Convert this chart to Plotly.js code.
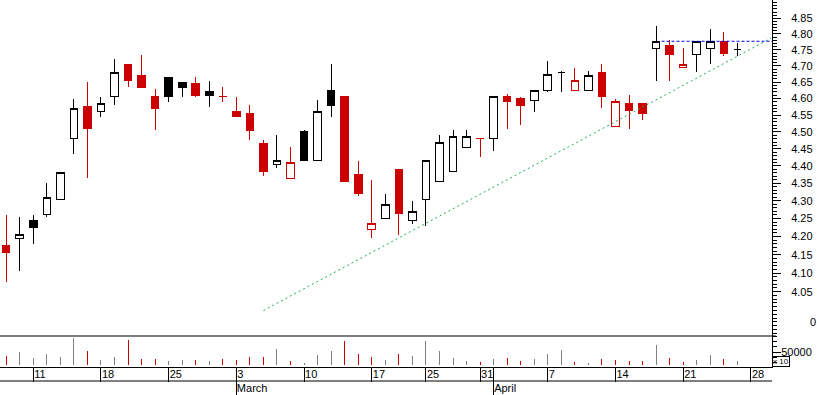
<!DOCTYPE html>
<html><head><meta charset="utf-8">
<script src="https://cdn.plot.ly/plotly-3.0.1.min.js"></script>
<style>html,body{margin:0;padding:0;background:#fff}#chart{width:817px;height:395px}
#chart path.box{shape-rendering:crispEdges}
#chart .bars path{shape-rendering:crispEdges}</style>
</head><body><div id="chart"></div>
<script>
// Trading days shown (2008)
const dates = ['2008-02-07','2008-02-08',
 '2008-02-11','2008-02-12','2008-02-13','2008-02-14','2008-02-15',
 '2008-02-18','2008-02-19','2008-02-20','2008-02-21','2008-02-22',
 '2008-02-25','2008-02-26','2008-02-27','2008-02-28','2008-02-29',
 '2008-03-03','2008-03-04','2008-03-05','2008-03-06','2008-03-07',
 '2008-03-10','2008-03-11','2008-03-12','2008-03-13','2008-03-14',
 '2008-03-17','2008-03-18','2008-03-19','2008-03-20',
 '2008-03-25','2008-03-26','2008-03-27','2008-03-28',
 '2008-03-31','2008-04-01','2008-04-02','2008-04-03','2008-04-04',
 '2008-04-07','2008-04-08','2008-04-09','2008-04-10','2008-04-11',
 '2008-04-14','2008-04-15','2008-04-16','2008-04-17','2008-04-18',
 '2008-04-21','2008-04-22','2008-04-23','2008-04-24','2008-04-25'];
const open = [4.175,4.195,4.245,4.26,4.305,4.48,4.575,4.56,4.605,4.705,
 4.67,4.605,4.665,4.65,4.645,4.62,4.605,4.56,4.555,4.465,
 4.405,4.365,4.50,4.415,4.625,4.605,4.375,4.22,4.25,4.39,
 4.245,4.305,4.355,4.385,4.455,4.48,4.48,4.605,4.60,4.595,
 4.625,4.68,4.625,4.625,4.68,4.515,4.585,4.585,4.755,4.765,
 4.695,4.735,4.755,4.775,4.75];
const high = [4.26,4.255,4.26,4.35,4.38,4.60,4.65,4.605,4.72,4.705,
 4.735,4.63,4.665,4.65,4.665,4.655,4.635,4.605,4.58,4.475,
 4.49,4.455,4.505,4.595,4.705,4.605,4.415,4.36,4.32,4.39,
 4.30,4.415,4.49,4.505,4.505,4.48,4.605,4.615,4.605,4.625,
 4.715,4.685,4.695,4.685,4.705,4.60,4.61,4.585,4.825,4.78,
 4.755,4.775,4.815,4.805,4.77];
const low = [4.075,4.105,4.18,4.255,4.305,4.435,4.365,4.545,4.58,4.635,
 4.635,4.505,4.59,4.605,4.605,4.575,4.59,4.545,4.475,4.37,
 4.395,4.365,4.415,4.415,4.545,4.355,4.315,4.195,4.25,4.205,
 4.235,4.23,4.355,4.385,4.455,4.425,4.445,4.51,4.52,4.56,
 4.62,4.62,4.625,4.625,4.57,4.515,4.51,4.535,4.655,4.655,
 4.695,4.68,4.705,4.73,4.73];
const close = [4.155,4.205,4.225,4.31,4.38,4.57,4.51,4.585,4.68,4.655,
 4.635,4.57,4.605,4.635,4.61,4.61,4.605,4.545,4.505,4.385,
 4.415,4.41,4.415,4.56,4.58,4.355,4.32,4.235,4.29,4.265,
 4.27,4.415,4.47,4.485,4.485,4.48,4.605,4.59,4.58,4.625,
 4.675,4.68,4.655,4.67,4.605,4.59,4.565,4.555,4.775,4.735,
 4.705,4.775,4.775,4.74,4.75];
// volume in thousands of shares
const volume = [355,500,264,421,315,1052,540,185,303,973,
 225,225,146,185,185,146,225,185,303,303,
 619,146,67,382,540,934,421,303,185,421,
 343,934,540,264,146,106,225,264,146,225,
 421,579,106,67,225,185,146,146,776,264,
 106,185,382,225,146];
const priorClose = 4.20;
const weekTickDates = ['2008-02-11','2008-02-18','2008-02-25','2008-03-03','2008-03-10','2008-03-17',
 '2008-03-25','2008-03-31','2008-04-07','2008-04-14','2008-04-21','2008-04-28'];
const monthTickDates = ['2008-03-03','2008-04-01'];
const monthTickText = ['March','April'];
const priceTicks = [4.05,4.10,4.15,4.20,4.25,4.30,4.35,4.40,4.45,4.50,4.55,4.60,4.65,4.70,4.75,4.80,4.85];
const volumeTicks = [500];
const volumeTickText = ['50000'];
// trend line (support) and resistance line: [bar index, price]
const trendIdx = [19, 56.5];
const trendPrice = [4.00, 4.787];
const resistIdx = [48.4, 56.6];
const resistPrice = [4.777, 4.777];

const RED = '#cc0000', BLACK = '#000000', GRAY = '#808080';
const idxOf = d => { const k = dates.indexOf(d); return k >= 0 ? k : dates.length; };

const groups = {rf:[], rh:[], bf:[], bh:[]};
const volColors = [];
dates.forEach((d, i) => {
  const prev = i ? close[i-1] : priorClose;
  const red = close[i] < prev;
  const filled = close[i] < open[i];
  groups[(red ? 'r' : 'b') + (filled ? 'f' : 'h')].push(i);
  volColors.push(red ? RED : GRAY);
});

function candle(list, color, fill) {
  const side = {line:{color:color, width:1}, fillcolor:fill};
  return {type:'candlestick', xaxis:'x', yaxis:'y',
    x:list, open:list.map(i=>open[i]), high:list.map(i=>high[i]),
    low:list.map(i=>low[i]), close:list.map(i=>close[i]),
    increasing:side, decreasing:side, whiskerwidth:0, hoverinfo:'skip'};
}

const traces = [
  candle(groups.bh, BLACK, '#ffffff'),
  candle(groups.rh, RED, '#ffffff'),
  candle(groups.bf, BLACK, BLACK),
  candle(groups.rf, RED, RED),
  {type:'bar', xaxis:'x', yaxis:'y2', x:dates.map((d,i)=>i), y:volume,
   width:0.074, marker:{color:volColors, line:{width:0}}, hoverinfo:'skip'},
  {type:'scatter', mode:'lines', xaxis:'x', yaxis:'y', x:trendIdx, y:trendPrice,
   line:{color:'#22aa55', width:1, dash:'2px,3px'}, hoverinfo:'skip'},
  {type:'scatter', mode:'lines', xaxis:'x', yaxis:'y', x:resistIdx, y:resistPrice,
   line:{color:'#0000ee', width:1, dash:'3px,2px'}, hoverinfo:'skip'},
  {type:'scatter', mode:'lines', xaxis:'x2', yaxis:'y2', x:[], y:[], hoverinfo:'skip'}
];

const H = 367; // plot area height (px)
const volPx = 31;
const xr = [-0.458, 56.56];
const tickFont = {family:'Arial, "Liberation Sans", sans-serif', size:11, color:'#000'};
const layout = {
  width:817, height:395, margin:{l:0, r:45, t:0, b:28},
  paper_bgcolor:'#fff', plot_bgcolor:'#fff', showlegend:false, hovermode:false,
  boxgap:0.2,
  xaxis:{range:xr, anchor:'y2', showgrid:false, zeroline:false,
    showline:true, linecolor:'#000', linewidth:1,
    tickmode:'array', tickvals:weekTickDates.map(idxOf),
    ticktext:weekTickDates.map(d=>String(+d.slice(8))),
    ticks:'outside', ticklen:14, tickwidth:1, tickcolor:'#000',
    ticklabelposition:'outside right', ticklabelstandoff:-3, ticklabelshift:0,
    tickfont:tickFont, rangeslider:{visible:false}, fixedrange:true},
  xaxis2:{range:xr, overlaying:'x', anchor:'y2', side:'bottom', showgrid:false, zeroline:false,
    showline:false, tickmode:'array', tickvals:monthTickDates.map(idxOf), ticktext:monthTickText,
    ticks:'outside', ticklen:28, tickwidth:1, tickcolor:'#000',
    ticklabelposition:'outside right', ticklabelstandoff:11, ticklabelshift:0,
    tickfont:tickFont, fixedrange:true},
  yaxis:{type:'log', domain:[volPx/H, 1], range:[0.594760, 0.690970], side:'right', anchor:'x',
    showgrid:false, zeroline:false, showline:true, linecolor:'#000', linewidth:1,
    tickmode:'array', tickvals:priceTicks, ticktext:priceTicks.map(v=>v.toFixed(2)),
    ticks:'outside', ticklen:8, tickwidth:1, tickcolor:'#000', tickfont:tickFont,
    ticklabelstandoff:8,
    minor:{dtick:'L0.01', tick0:4, ticks:'outside', ticklen:4, tickwidth:1, tickcolor:'#000'},
    fixedrange:true},
  yaxis2:{domain:[0, volPx/H], range:[-90, 1130], side:'right', anchor:'x',
    showgrid:false, zeroline:false, showline:true, linecolor:'#000', linewidth:1,
    tickmode:'array', tickvals:volumeTicks, ticktext:volumeTickText,
    ticks:'outside', ticklen:8, tickwidth:1, tickcolor:'#000', tickfont:tickFont,
    ticklabelstandoff:-2,
    minor:{tickmode:'array', tickvals:[100,300,700,900,1100], ticks:'outside', ticklen:4, tickwidth:1, tickcolor:'#000'},
    fixedrange:true},
  shapes:[
    {type:'line', xref:'paper', yref:'paper', x0:0, x1:1.005, y0:volPx/H, y1:volPx/H, line:{color:'#000', width:1}},
    {type:'line', xref:'paper', yref:'paper', x0:0, x1:1, y0:-14/H, y1:-14/H, line:{color:'#000', width:1}}
  ],
  annotations:[
    {xref:'paper', yref:'paper', x:808/772, y:(H-322)/H, text:'0', showarrow:false,
     xanchor:'left', yanchor:'middle', font:tickFont},
    {xref:'paper', yref:'paper', x:1, y:(H-361)/H, text:'x 10', showarrow:false,
     xanchor:'left', yanchor:'middle', font:{family:'Arial, sans-serif', size:8, color:'#000'},
     bordercolor:'#000', borderwidth:1, borderpad:0}
  ]
};
Plotly.newPlot('chart', traces, layout, {staticPlot:true, displayModeBar:false});
</script>
</body></html>
